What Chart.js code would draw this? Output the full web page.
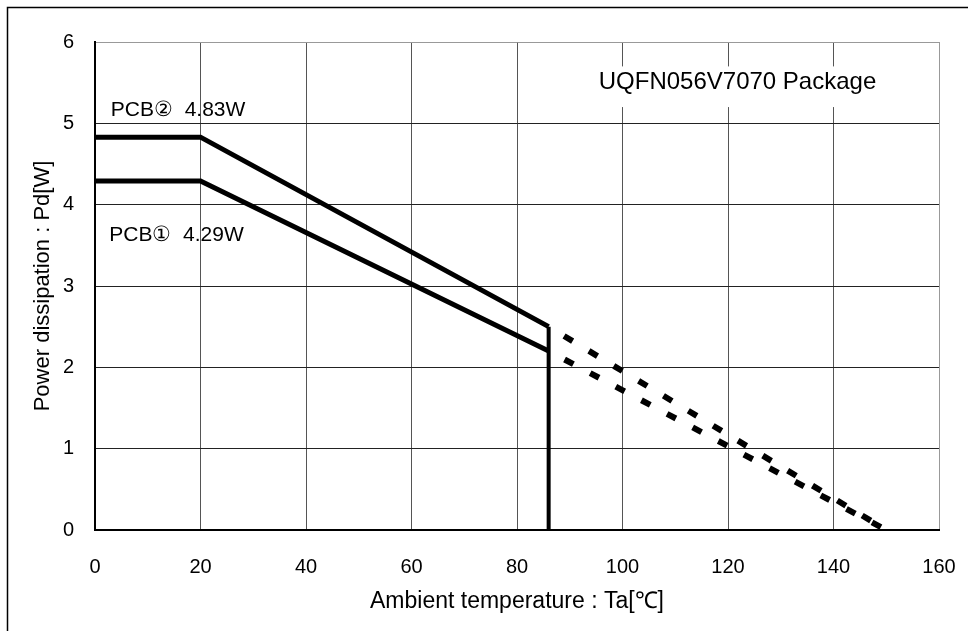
<!DOCTYPE html>
<html>
<head>
<meta charset="utf-8">
<script src="https://cdn.jsdelivr.net/npm/chart.js@4.4.1/dist/chart.umd.min.js"></script>
<style>
  html, body { margin: 0; padding: 0; background: #fff; }
  #wrap { width: 968px; height: 631px; position: relative; }
</style>
</head>
<body>
<div id="wrap"><canvas id="pdChart" width="968" height="631"></canvas></div>
<script>
// Pd derating data
var ratedTemps = [0, 20, 86];
var pcb1Rated = [4.29, 4.29, 2.2];
var pcb2Rated = [4.83, 4.83, 2.5];
var derateTemps = [86, 150];
var pcb1Derate = [2.2, 0];
var pcb2Derate = [2.5, 0];
var limitTemps = [86, 86];
var limitPower = [0, 2.5];
var xTicks = [0, 20, 40, 60, 80, 100, 120, 140, 160];
var yTicks = [0, 1, 2, 3, 4, 5, 6];

function toPoints(xs, ys) {
    return xs.map(function (x, i) { return { x: x, y: ys[i] }; });
}

// white page, outer frame and the text notes inside the plot
var notesPlugin = {
    id: 'notes',
    beforeDraw: function (chart) {
        var c = chart.ctx;
        c.save();
        c.fillStyle = '#fff';
        c.fillRect(0, 0, chart.width, chart.height);
        c.strokeStyle = '#000';
        c.lineWidth = 1.5;
        c.beginPath();
        c.moveTo(7.5, chart.height + 5);
        c.lineTo(7.5, 7.5);
        c.lineTo(chart.width + 5, 7.5);
        c.stroke();
        c.restore();
    },
    beforeDatasetsDraw: function (chart) {
        var c = chart.ctx;
        var xs = chart.scales.x, ys = chart.scales.y;
        c.save();
        c.fillStyle = '#fff';
        c.fillRect(xs.getPixelForValue(95), ys.getPixelForValue(5.7), xs.getPixelForValue(150) - xs.getPixelForValue(95), ys.getPixelForValue(5.2) - ys.getPixelForValue(5.7));
        c.fillStyle = '#000';
        c.textBaseline = 'middle';
        c.textAlign = 'left';
        c.font = '24px "Liberation Sans", Arial, sans-serif';
        c.fillText('UQFN056V7070 Package', xs.getPixelForValue(95.5), ys.getPixelForValue(5.5));
        c.font = '21px "Liberation Sans", Arial, sans-serif';
        c.fillText('PCB\u2461  4.83W', xs.getPixelForValue(3), ys.getPixelForValue(5.16));
        c.fillText('PCB\u2460  4.29W', xs.getPixelForValue(2.7), ys.getPixelForValue(3.62));
        c.restore();
    }
};

var ctx = document.getElementById('pdChart').getContext('2d');
var pdChart = new Chart(ctx, {
    type: 'line',
    data: {
        datasets: [
            { data: toPoints(ratedTemps, pcb2Rated), borderWidth: 5 },
            { data: toPoints(ratedTemps, pcb1Rated), borderWidth: 5 },
            { data: toPoints(limitTemps, limitPower), borderWidth: 4 },
            { data: toPoints(derateTemps, pcb2Derate), borderWidth: 6, borderDash: [10, 19], borderDashOffset: 11 },
            { data: toPoints(derateTemps, pcb1Derate), borderWidth: 6, borderDash: [10, 19], borderDashOffset: 11 }
        ]
    },
    options: {
        responsive: false,
        animation: false,
        elements: {
            line: { borderColor: '#000', tension: 0, fill: false },
            point: { radius: 0 }
        },
        layout: { padding: { top: 42, right: 29, left: 0, bottom: 0 } },
        plugins: { legend: { display: false }, tooltip: { enabled: false } },
        scales: {
            x: {
                type: 'linear',
                min: 0,
                max: 160,
                afterBuildTicks: function (scale) {
                    scale.ticks = xTicks.map(function (v) { return { value: v }; });
                },
                afterFit: function (scale) {
                    scale.height = 101;
                    scale.paddingLeft = 0;
                    scale.paddingRight = 0;
                },
                grid: {
                    drawTicks: false,
                    color: function (c) { return c.tick && c.tick.value === 160 ? '#999' : '#555'; }
                },
                border: { color: '#000', width: 2 },
                ticks: {
                    color: '#000',
                    padding: 25,
                    maxRotation: 0,
                    font: { family: '"Liberation Sans", Arial, sans-serif', size: 20 }
                },
                title: {
                    display: true,
                    text: 'Ambient temperature : Ta[\u2103]',
                    color: '#000',
                    padding: { top: 0, bottom: 18 },
                    font: { family: '"Liberation Sans", sans-serif', size: 23, lineHeight: 1 }
                }
            },
            y: {
                type: 'linear',
                min: 0,
                max: 6,
                afterBuildTicks: function (scale) {
                    scale.ticks = yTicks.map(function (v) { return { value: v }; });
                },
                afterFit: function (scale) { scale.width = 95; },
                grid: {
                    drawTicks: false,
                    color: function (c) { return c.tick && c.tick.value === 6 ? '#999' : '#222'; }
                },
                border: { color: '#000', width: 2 },
                ticks: {
                    color: '#000',
                    padding: 21,
                    font: { family: '"Liberation Sans", Arial, sans-serif', size: 20 }
                },
                title: {
                    display: true,
                    text: 'Power dissipation : Pd[W]',
                    color: '#000',
                    padding: { top: 32, bottom: 0 },
                    font: { family: '"Liberation Sans", Arial, sans-serif', size: 22, lineHeight: 1 }
                }
            }
        }
    },
    plugins: [notesPlugin]
});
</script>
</body>
</html>
